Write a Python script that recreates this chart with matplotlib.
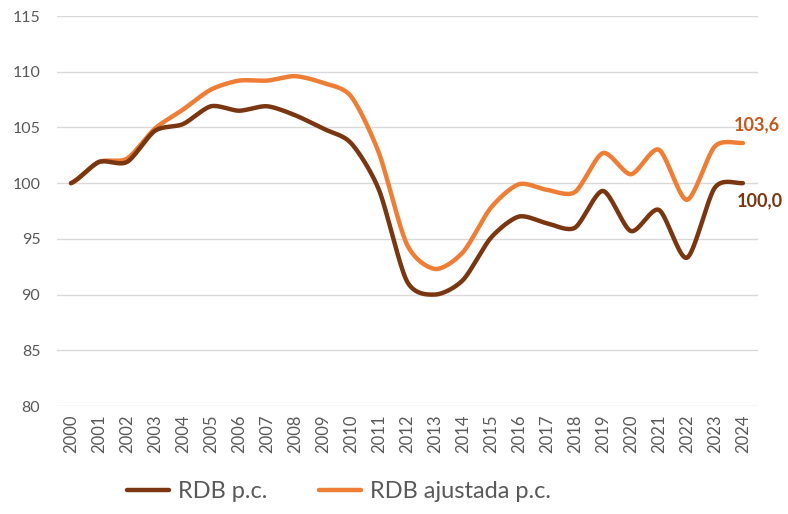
import numpy as np
import matplotlib.pyplot as plt

years = [str(y) for y in range(2000, 2025)]
rdb_pc = [100.0, 101.9, 101.9, 104.7, 105.3, 106.9, 106.5, 106.9, 106.1, 104.9,
          103.6, 99.4, 91.2, 90.0, 91.3, 95.1, 97.0, 96.4, 96.0, 99.3,
          95.7, 97.6, 93.3, 99.6, 100.0]
rdb_ajust = [100.0, 101.9, 102.2, 104.9, 106.6, 108.4, 109.2, 109.2, 109.6, 109.0,
             107.8, 102.7, 94.5, 92.3, 93.8, 97.8, 99.9, 99.4, 99.2, 102.7,
             100.8, 103.0, 98.5, 103.3, 103.6]

c_dark = '#7A3610'
c_orange = '#EE7D35'
c_grey = '#595959'


def smooth(x, y, n=20, tension=0.5):
    # catmull-rom style spline, close to excel's smoothed line
    x = np.asarray(x, float)
    y = np.asarray(y, float)
    px = np.concatenate([[2 * x[0] - x[1]], x, [2 * x[-1] - x[-2]]])
    py = np.concatenate([[y[0]], y, [y[-1]]])
    xs, ys = [], []
    t = np.linspace(0, 1, n, endpoint=False)
    h00 = 2 * t ** 3 - 3 * t ** 2 + 1
    h10 = t ** 3 - 2 * t ** 2 + t
    h01 = -2 * t ** 3 + 3 * t ** 2
    h11 = t ** 3 - t ** 2
    for i in range(1, len(px) - 2):
        for p, out in ((px, xs), (py, ys)):
            m1 = tension * (p[i + 1] - p[i - 1])
            m2 = tension * (p[i + 2] - p[i])
            out.extend(h00 * p[i] + h10 * m1 + h01 * p[i + 1] + h11 * m2)
    xs.append(x[-1])
    ys.append(y[-1])
    return xs, ys


plt.rcParams['font.family'] = ['Lato', 'DejaVu Sans']

fig = plt.figure(figsize=(7.88, 5.14), dpi=100)
ax = fig.add_axes([57 / 788, 1 - 406 / 514, 701 / 788, 390 / 514])

x = np.arange(len(years))
sx, sy = smooth(x, rdb_pc, tension=0.4)
ax.plot(sx, sy, color=c_dark, lw=3.2, solid_capstyle='round', label='RDB p.c.', zorder=3)
sx, sy = smooth(x, rdb_ajust, tension=0.4)
ax.plot(sx, sy, color=c_orange, lw=3.2, solid_capstyle='round', label='RDB ajustada p.c.', zorder=2)

ax.set_ylim(80, 115)
ax.set_xlim(-0.5, 24.54)
ax.set_yticks(range(80, 116, 5))
ax.set_xticks(x)
ax.set_xticklabels(years, rotation=90)
ax.tick_params(length=0, colors=c_grey, labelsize=12)
ax.tick_params(axis='y', pad=12, labelsize=11.5)
ax.tick_params(axis='x', pad=6)
ax.grid(axis='y', color='#D9D9D9', lw=1)
ax.set_axisbelow(True)
for s in ax.spines.values():
    s.set_visible(False)

ax.annotate(f'{rdb_ajust[-1]:.1f}'.replace('.', ','), (x[-1], rdb_ajust[-1]),
            xytext=(10, 7), textcoords='offset points', ha='center', va='bottom',
            color='#C4581B', fontsize=13, fontweight='bold', annotation_clip=False)
ax.annotate(f'{rdb_pc[-1]:.1f}'.replace('.', ','), (x[-1], rdb_pc[-1]),
            xytext=(12, -13), textcoords='offset points', ha='center', va='center',
            color=c_dark, fontsize=13, fontweight='bold', annotation_clip=False)

fig.legend(loc='lower center', bbox_to_anchor=(0.43, -0.018), ncol=2, frameon=False,
           fontsize=17, labelcolor=c_grey, handlelength=1.8, handletextpad=0.35,
           columnspacing=2.2)

fig.savefig('out.png', dpi=100)
